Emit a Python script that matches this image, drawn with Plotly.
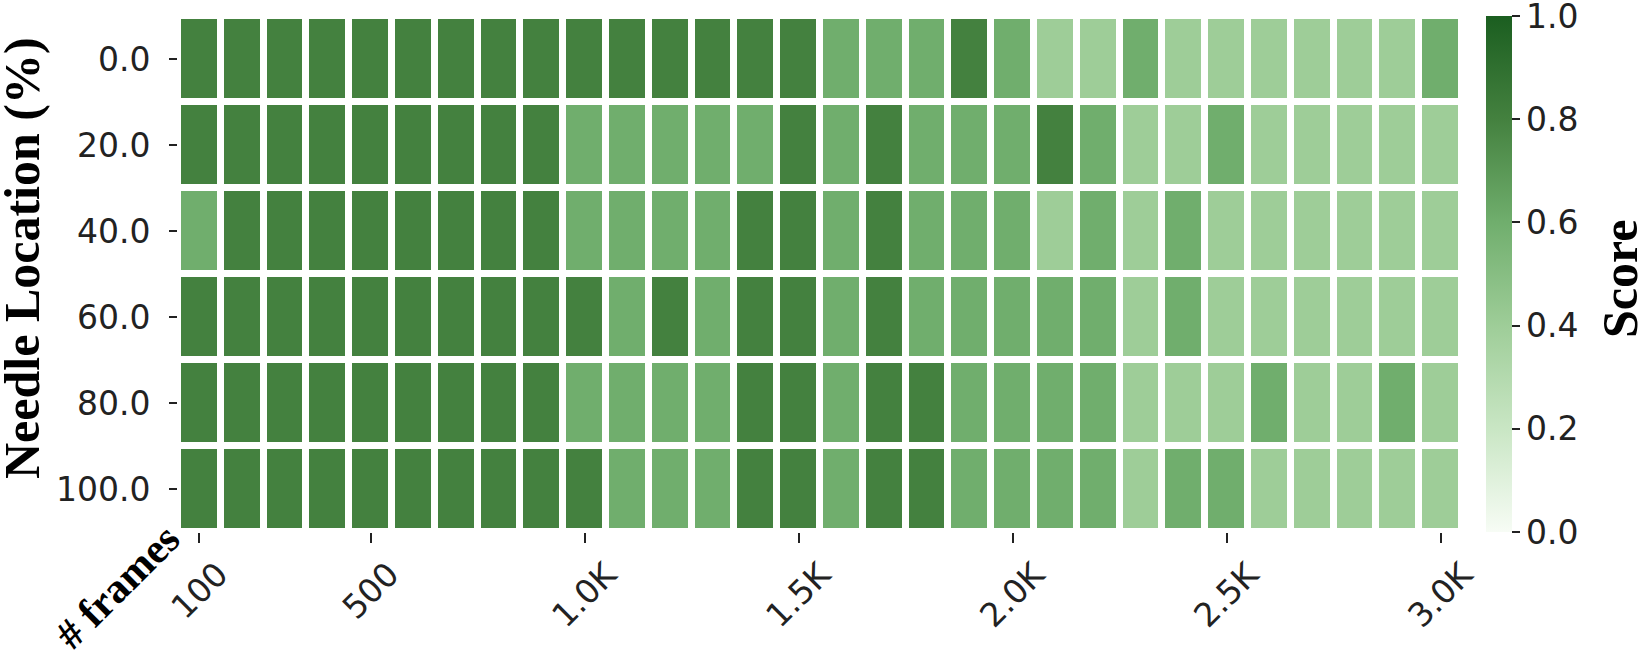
import plotly.graph_objects as go

# frame counts (x) and needle depth (y)
frames = [100, 200, 300, 400, 500, 600, 700, 800, 900, 1000,
          1100, 1200, 1300, 1400, 1500, 1600, 1700, 1800, 1900, 2000,
          2100, 2200, 2300, 2400, 2500, 2600, 2700, 2800, 2900, 3000]
needle_locations = ["0.0", "20.0", "40.0", "60.0", "80.0", "100.0"]

# retrieval score per (location, frame count)
score_0 = [0.8, 0.8, 0.8, 0.8, 0.8, 0.8, 0.8, 0.8, 0.8, 0.8, 0.8, 0.8, 0.8, 0.8, 0.8,
           0.6, 0.6, 0.6, 0.8, 0.6, 0.4, 0.4, 0.6, 0.4, 0.4, 0.4, 0.4, 0.4, 0.4, 0.6]
score_20 = [0.8, 0.8, 0.8, 0.8, 0.8, 0.8, 0.8, 0.8, 0.8, 0.6, 0.6, 0.6, 0.6, 0.6, 0.8,
            0.6, 0.8, 0.6, 0.6, 0.6, 0.8, 0.6, 0.4, 0.4, 0.6, 0.4, 0.4, 0.4, 0.4, 0.4]
score_40 = [0.6, 0.8, 0.8, 0.8, 0.8, 0.8, 0.8, 0.8, 0.8, 0.6, 0.6, 0.6, 0.6, 0.8, 0.8,
            0.6, 0.8, 0.6, 0.6, 0.6, 0.4, 0.6, 0.4, 0.6, 0.4, 0.4, 0.4, 0.4, 0.4, 0.4]
score_60 = [0.8, 0.8, 0.8, 0.8, 0.8, 0.8, 0.8, 0.8, 0.8, 0.8, 0.6, 0.8, 0.6, 0.8, 0.8,
            0.6, 0.8, 0.6, 0.6, 0.6, 0.6, 0.6, 0.4, 0.6, 0.4, 0.4, 0.4, 0.4, 0.4, 0.4]
score_80 = [0.8, 0.8, 0.8, 0.8, 0.8, 0.8, 0.8, 0.8, 0.8, 0.6, 0.6, 0.6, 0.6, 0.8, 0.8,
            0.6, 0.8, 0.8, 0.6, 0.6, 0.6, 0.6, 0.4, 0.4, 0.4, 0.6, 0.4, 0.4, 0.6, 0.4]
score_100 = [0.8, 0.8, 0.8, 0.8, 0.8, 0.8, 0.8, 0.8, 0.8, 0.8, 0.6, 0.6, 0.6, 0.8, 0.8,
             0.6, 0.8, 0.8, 0.6, 0.6, 0.6, 0.6, 0.4, 0.6, 0.6, 0.4, 0.4, 0.4, 0.4, 0.4]

tick_frames = [100, 500, 1000, 1500, 2000, 2500, 3000]
tick_labels = ["100", "500", "1.0K", "1.5K", "2.0K", "2.5K", "3.0K"]
cbar_ticks = [0.0, 0.2, 0.4, 0.6, 0.8, 1.0]

GREENS = [
    [0.0, '#f7fcf5'],
    [0.2, '#c9e6c4'],
    [0.4, '#9ecd98'],
    [0.6, '#70ae6d'],
    [0.8, '#44813f'],
    [1.0, '#1b5e20'],
]
TICK_FONT = dict(family="DejaVu Sans", size=33, color='#222222')
TITLE_FONT = dict(family="Liberation Serif", size=50, color='black')

fig = go.Figure(go.Heatmap(
    x=frames,
    y=needle_locations,
    z=[score_0, score_20, score_40, score_60, score_80, score_100],
    zmin=0, zmax=1,
    colorscale=GREENS,
    xgap=7, ygap=7,
    colorbar=dict(
        thickness=26, len=1, lenmode='fraction',
        x=1.0187, xanchor='left', xpad=0,
        y=0.5, yanchor='middle', ypad=0,
        outlinewidth=0,
        # top tick nudged just inside the bar so plotly keeps it
        tickvals=[min(v, 0.9999) for v in cbar_ticks],
        ticktext=[f"{v:.1f}" for v in cbar_ticks],
        ticklabeloverflow='allow',
        ticks='outside', ticklen=8, tickwidth=1.5, tickcolor='#222222',
        tickfont=TICK_FONT,
    ),
    hovertemplate='frames %{x}<br>loc %{y}<br>score %{z}<extra></extra>'
))

# x tick labels centred under ticks, rotated 45 degrees
annotations = [
    dict(x=v, y=-0.038, xref='x', yref='paper', text=t, textangle=-45,
         xanchor='center', yanchor='top', showarrow=False, font=TICK_FONT)
    for v, t in zip(tick_frames, tick_labels)
]
annotations += [
    dict(x=-0.1215, y=0.531, xref='paper', yref='paper',
         text="<b>Needle Location (%)</b>", textangle=-90,
         xanchor='center', yanchor='middle', showarrow=False, font=TITLE_FONT),
    dict(x=1.123, y=0.49, xref='paper', yref='paper',
         text="<b>Score</b>", textangle=-90,
         xanchor='center', yanchor='middle', showarrow=False, font=TITLE_FONT),
    dict(x=-0.0475, y=-0.1066, xref='paper', yref='paper',
         text="<b># frames</b>", textangle=-45,
         xanchor='center', yanchor='middle', showarrow=False,
         font=dict(family="Liberation Serif", size=42, color='black')),
]

fig.update_layout(
    width=1644, height=651,
    margin=dict(l=178, r=182, t=16, b=119),
    plot_bgcolor='white', paper_bgcolor='white',
    annotations=annotations,
)
fig.update_xaxes(
    range=[50, 3050], tickvals=tick_frames, showticklabels=False,
    ticks='outside', ticklen=10, tickwidth=1.5, tickcolor='#222222',
    showgrid=False, zeroline=False, showline=False,
)
fig.update_yaxes(
    autorange='reversed', ticks='outside', ticklen=8, tickwidth=1.5,
    tickcolor='#222222', ticklabelstandoff=12, tickfont=TICK_FONT,
    showgrid=False, zeroline=False, showline=False,
)

# drop the browser's default body margin so the figure sits at the page corner
fig.write_html(
    "out.html",
    config={'displayModeBar': False},
    post_script="document.body.style.margin = '0';",
)
